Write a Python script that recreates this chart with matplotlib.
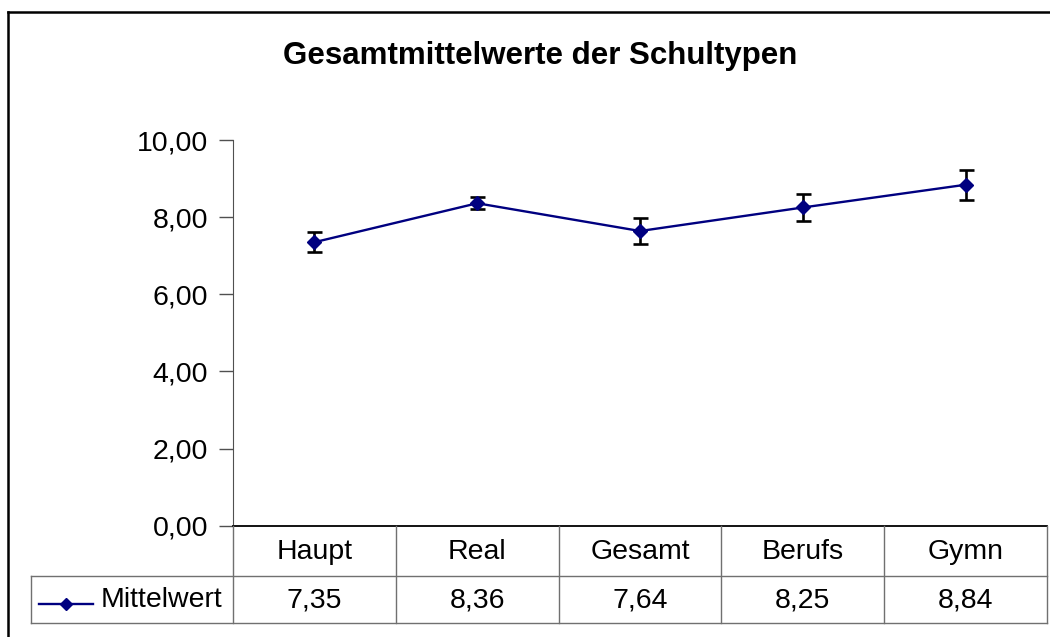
import matplotlib.pyplot as plt
from matplotlib.lines import Line2D

schultypen = ['Haupt', 'Real', 'Gesamt', 'Berufs', 'Gymn']
mittelwerte = [7.35, 8.36, 7.64, 8.25, 8.84]
fehler = [0.26, 0.16, 0.34, 0.36, 0.39]
yticks = [0, 2, 4, 6, 8, 10]

plt.rcParams['font.family'] = ['Liberation Sans', 'DejaVu Sans']

W, H = 1050, 637
fig = plt.figure(figsize=(W / 100, H / 100), dpi=100)

# plot area in pixels: x 233..1047, y 140..525.7
links, rechts, oben, unten = 233, 1047, 140, 525.7
ax = fig.add_axes([links / W, 1 - unten / H, (rechts - links) / W, (unten - oben) / H])

x = list(range(len(schultypen)))
ax.errorbar(x, mittelwerte, yerr=fehler, fmt='none', ecolor='black',
            elinewidth=1.9, capsize=5.4, capthick=1.9, zorder=2)
ax.plot(x, mittelwerte, color='#000080', lw=1.7, marker='D', ms=7.4,
        markerfacecolor='#000080', markeredgecolor='#000080', zorder=3)

ax.set_xlim(-0.5, len(schultypen) - 0.5)
ax.set_ylim(0, 10)
ax.set_yticks(yticks)
ax.yaxis.set_major_formatter(plt.FuncFormatter(lambda v, p: ('%.2f' % v).replace('.', ',')))
ax.tick_params(axis='y', direction='out', length=10, width=1, color='#505050',
               labelsize=20.5, pad=8)
ax.set_xticks([])
for s in ['top', 'right']:
    ax.spines[s].set_visible(False)
ax.spines['left'].set_color('#505050')
ax.spines['bottom'].set_color('black')
ax.spines['bottom'].set_linewidth(1.3)

# Datentabelle unter der Achse
gitter = '#707070'
zeile1 = 575.7
zeile2 = 623.3
lz = 31
breite = (rechts - links) / len(schultypen)

def fy(py):
    return 1 - py / H

def fx(px):
    return px / W

for i in range(len(schultypen) + 1):
    px = links + i * breite
    fig.add_artist(Line2D([fx(px), fx(px)], [fy(unten), fy(zeile2)], color=gitter, lw=1))
fig.add_artist(Line2D([fx(lz), fx(rechts)], [fy(zeile1), fy(zeile1)], color=gitter, lw=1))
fig.add_artist(Line2D([fx(lz), fx(rechts)], [fy(zeile2), fy(zeile2)], color=gitter, lw=1))
fig.add_artist(Line2D([fx(lz), fx(lz)], [fy(zeile1), fy(zeile2)], color=gitter, lw=1))

for i in range(len(schultypen)):
    cx = links + (i + 0.5) * breite
    fig.text(fx(cx), fy((unten + zeile1) / 2 + 1), schultypen[i], ha='center', va='center', fontsize=20.5)
    fig.text(fx(cx), fy((zeile1 + zeile2) / 2 + 1), ('%.2f' % mittelwerte[i]).replace('.', ','),
             ha='center', va='center', fontsize=20.5)

# Legendenschlüssel
fig.add_artist(Line2D([fx(39), fx(93)], [fy(604), fy(604)], color='#000080', lw=1.7))
fig.add_artist(Line2D([fx(66)], [fy(604)], color='#000080', marker='D', ms=6.5, lw=0))
fig.text(fx(101), fy(600), 'Mittelwert', ha='left', va='center', fontsize=20.5)

# Titel
fig.text(fx(540), fy(56), 'Gesamtmittelwerte der Schultypen', ha='center', va='center',
         fontsize=22.5, fontweight='bold')

# Rahmen des Diagramms
fig.add_artist(Line2D([fx(8), fx(8)], [fy(12), fy(H + 5)], color='black', lw=1.8))
fig.add_artist(Line2D([fx(8), fx(W + 5)], [fy(12), fy(12)], color='black', lw=1.8))

fig.savefig('out.png', dpi=100)
